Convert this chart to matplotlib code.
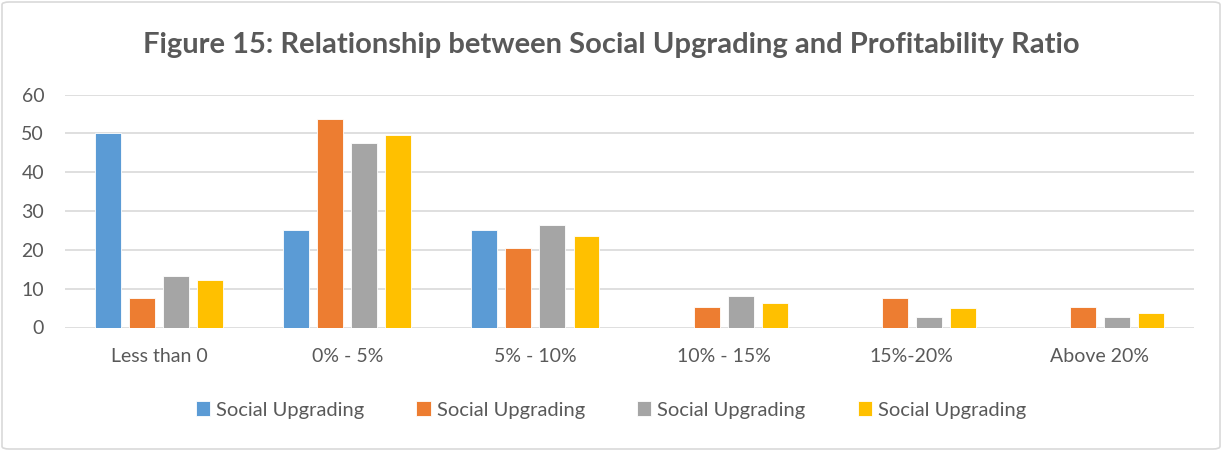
import matplotlib
matplotlib.use("Agg")
import matplotlib.pyplot as plt
from matplotlib.patches import FancyBboxPatch
import numpy as np

categories = ["Less than 0", "0% - 5%", "5% - 10%", "10% - 15%", "15%-20%", "Above 20%"]
series_labels = ["Social Upgrading", "Social Upgrading", "Social Upgrading", "Social Upgrading"]
series_1 = [50.0, 25.0, 25.0, 0.0, 0.0, 0.0]
series_2 = [7.7, 53.8, 20.5, 5.3, 7.7, 5.3]
series_3 = [13.2, 47.5, 26.4, 8.0, 2.7, 2.7]
series_4 = [12.3, 49.5, 23.5, 6.4, 5.0, 3.7]
y_ticks = [0, 10, 20, 30, 40, 50, 60]

colors = ["#5b9bd5", "#ed7d31", "#a5a5a5", "#ffc000"]
text_color = "#595959"
grid_color = "#d9d9d9"

plt.rcParams["font.family"] = ["Lato", "DejaVu Sans"]

fig = plt.figure(figsize=(12.22, 4.51), dpi=100)
ax = fig.add_axes([65 / 1222, 1 - 327.5 / 451, (1194 - 65) / 1222, (327.5 - 94.5) / 451])

x = np.arange(len(categories))
width = 0.138
step = 0.181
all_series = [series_1, series_2, series_3, series_4]
for i, (vals, c, lab) in enumerate(zip(all_series, colors, series_labels)):
    offset = (i - 1.5) * step
    ax.bar(x + offset, vals, width, color=c, label=lab, edgecolor="white", linewidth=0.6, zorder=3)

ax.set_xlim(-0.5, len(categories) - 0.5)
ax.set_ylim(0, 60)
ax.set_yticks(y_ticks)
ax.set_xticks(x)
ax.set_xticklabels(categories)
ax.yaxis.grid(True, color=grid_color, linewidth=1.2, zorder=0)
ax.set_axisbelow(True)
for s in ax.spines.values():
    s.set_visible(False)
ax.tick_params(axis="both", length=0, colors=text_color, labelsize=14)
ax.tick_params(axis="x", pad=15)
ax.tick_params(axis="y", pad=15)

fig.text(0.5, 1 - 45 / 451, "Figure 15: Relationship between Social Upgrading and Profitability Ratio",
         ha="center", va="center", fontsize=21, fontweight="bold", color=text_color)

leg = fig.legend(loc="center", bbox_to_anchor=(0.5, 1 - 410 / 451), ncol=4, frameon=False,
                 handlelength=0.7, handleheight=0.7, handletextpad=0.3, columnspacing=2.6,
                 fontsize=14.5)
for t in leg.get_texts():
    t.set_color(text_color)

border = FancyBboxPatch((2 / 1222, 2 / 451), 1 - 4 / 1222, 1 - 4 / 451,
                        boxstyle="round,pad=0,rounding_size=0.006", transform=fig.transFigure,
                        facecolor="none", edgecolor=grid_color, linewidth=1.2)
fig.patches.append(border)

fig.savefig("out.png", dpi=100)
